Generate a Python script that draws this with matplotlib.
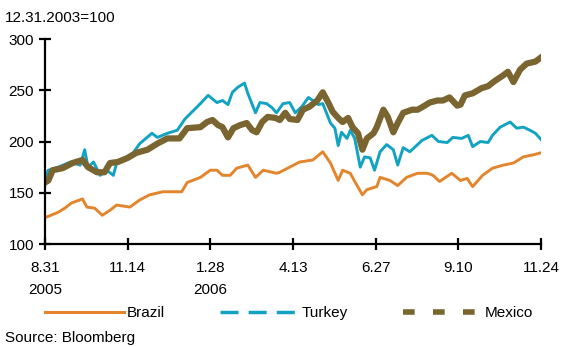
import matplotlib
matplotlib.use('Agg')
import matplotlib.pyplot as plt
from matplotlib.lines import Line2D

plt.rcParams['font.family'] = ['Liberation Sans', 'DejaVu Sans']

# days after 8.31.2005, index 12.31.2003=100
brazil_days = [0, 3, 12, 18, 24, 34, 38, 45, 52, 59, 65, 77, 86, 95, 107, 124, 129, 141, 150, 156,
               161, 168, 174, 184, 191, 198, 210, 213, 231, 243, 252, 259, 266, 270, 277, 281, 288,
               292, 301, 304, 313, 320, 328, 338, 347, 352, 358, 369, 377, 383, 388, 397, 406, 416,
               425, 434, 443, 450]
brazil = [126, 127, 131, 135, 140, 144, 136, 135, 128, 133, 138, 136, 143, 148, 151, 151, 160, 165,
          172, 172, 167, 167, 174, 177, 165, 172, 169, 170, 180, 182, 190, 179, 162, 172, 169, 161,
          148, 153, 156, 165, 162, 157, 165, 169, 169, 167, 161, 169, 162, 164, 156, 167, 174, 177,
          179, 185, 187, 189]

turkey_days = [0, 3, 12, 23, 32, 36, 39, 44, 50, 56, 62, 65, 73, 80, 86, 97, 102, 111, 120, 127,
               141, 148, 156, 161, 166, 170, 175, 181, 184, 191, 195, 201, 206, 210, 216, 222, 227,
               233, 239, 243, 248, 252, 259, 263, 266, 269, 274, 277, 281, 286, 290, 295, 299, 304,
               310, 316, 320, 325, 331, 338, 342, 351, 357, 365, 370, 378, 384, 388, 395, 402, 406,
               413, 422, 428, 434, 440, 445, 450]
turkey = [165, 172, 175, 180, 177, 192, 175, 180, 167, 172, 167, 179, 184, 189, 198, 208, 204, 208,
          211, 222, 237, 245, 238, 240, 236, 248, 253, 257, 247, 228, 238, 237, 233, 228, 237, 238,
          228, 234, 243, 240, 236, 237, 218, 213, 196, 209, 203, 211, 203, 175, 185, 184, 172, 190,
          197, 192, 177, 194, 190, 197, 201, 206, 200, 199, 204, 203, 206, 195, 200, 199, 206, 214,
          219, 213, 214, 211, 208, 202]

mexico_days = [0, 3, 7, 16, 25, 34, 39, 47, 54, 59, 66, 75, 83, 93, 102, 111, 122, 129, 141, 147,
               152, 157, 161, 166, 171, 177, 183, 188, 192, 197, 202, 209, 213, 218, 222, 229, 234,
               240, 247, 252, 257, 261, 266, 270, 275, 279, 284, 288, 292, 298, 301, 307, 311, 316,
               320, 325, 333, 338, 343, 349, 356, 361, 367, 374, 377, 381, 388, 396, 402, 408, 415,
               420, 425, 431, 437, 445, 450]
mexico = [160, 162, 172, 174, 179, 182, 175, 170, 170, 179, 180, 184, 189, 192, 198, 203, 203, 213,
          214, 219, 221, 216, 214, 204, 213, 216, 218, 211, 209, 219, 224, 223, 221, 228, 222, 221,
          231, 234, 240, 248, 238, 229, 223, 219, 223, 214, 208, 192, 203, 208, 214, 231, 224, 209,
          218, 228, 231, 231, 234, 238, 240, 240, 243, 235, 236, 245, 247, 252, 254, 259, 264, 268,
          258, 270, 276, 278, 282]

tick_days = [0, 75, 150, 225, 300, 375, 450]
tick_labels = ['8.31\n2005', '11.14', '1.28\n2006', '4.13', '6.27', '9.10', '11.24']

c_brazil = '#E3852C'
c_turkey = '#12A2C2'
c_mexico = '#7A6430'

fig = plt.figure(figsize=(5.62, 3.47), dpi=100)
ax = fig.add_axes([0.0801, 0.2968, 0.8825, 0.5908])

ax.plot(brazil_days, brazil, color=c_brazil, lw=2.1)
ax.plot(turkey_days, turkey, color=c_turkey, lw=2.1)
ax.plot(mexico_days, mexico, color=c_mexico, lw=4.5)

ax.set_xlim(0, 450)
ax.set_ylim(100, 300)
ax.set_yticks([100, 150, 200, 250, 300])
ax.set_xticks(tick_days)
ax.set_xticklabels(tick_labels, linespacing=1.75, va='top')
for s in ['top', 'right']:
    ax.spines[s].set_visible(False)
for s in ['left', 'bottom']:
    ax.spines[s].set_linewidth(1.6)
ax.tick_params(axis='both', direction='inout', length=8, width=1.6, labelsize=11)
ax.tick_params(axis='x', pad=8)
ax.tick_params(axis='y', pad=4)

fig.text(0.009, 0.948, '12.31.2003=100', fontsize=11, va='center')
fig.text(0.009, 0.026, 'Source: Bloomberg', fontsize=11, va='center')

handles = [
    Line2D([], [], color=c_brazil, lw=2.2),
    Line2D([], [], color=c_turkey, lw=2.5, dashes=(5.2, 2.9)),
    Line2D([], [], color=c_mexico, lw=4, dashes=(2.1, 3.3)),
]
fig.legend(handles, ['Brazil', 'Turkey', 'Mexico'], loc='center left',
           bbox_to_anchor=(0.055, 0.097), ncol=3, frameon=False, fontsize=11,
           handlelength=5.2, handletextpad=0.2, columnspacing=3.55)

fig.savefig('out.png', dpi=100)
